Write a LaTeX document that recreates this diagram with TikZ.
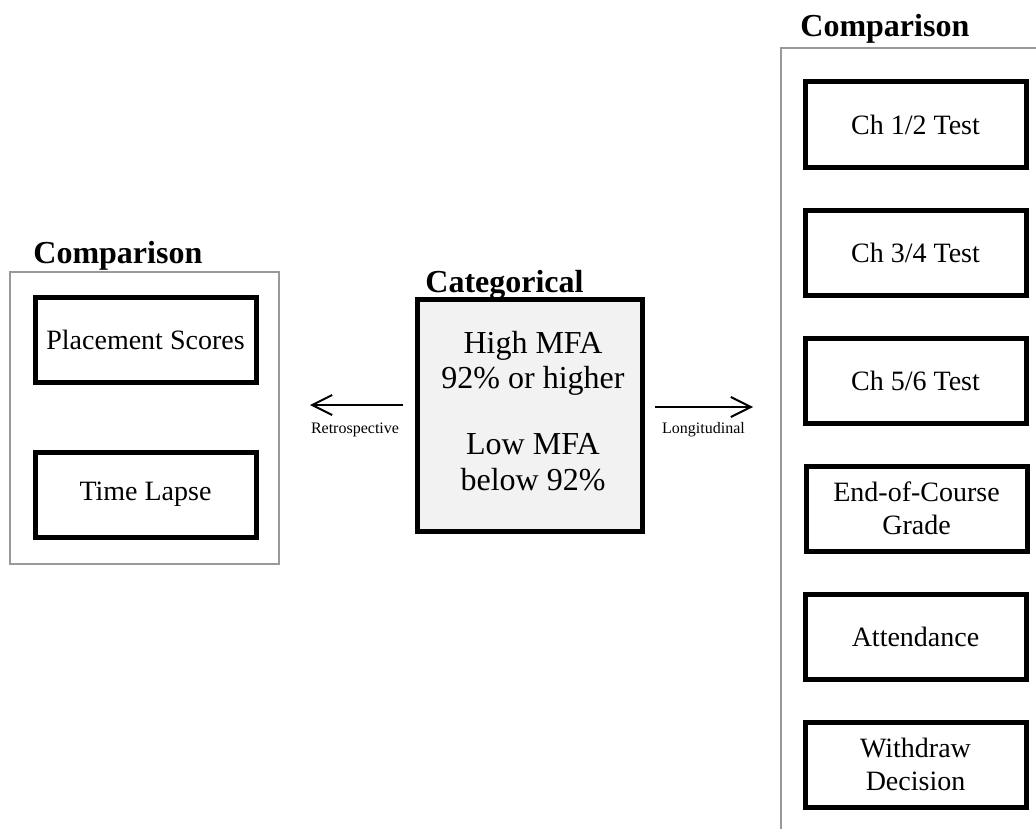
\documentclass[tikz,border=0pt]{standalone}
\usepackage{fontspec}
\setmainfont{Liberation Serif}
\usetikzlibrary{arrows.meta}
\begin{document}
\begin{tikzpicture}[x=0.5pt,y=-0.5pt,
  panel/.style={draw=black!40, line width=0.75pt},
  itembox/.style={draw=black, line width=2.5pt, fill=white, minimum width=110.5pt, minimum height=42.5pt, inner sep=0pt, align=center, font=\fontsize{14}{16.5}\selectfont},
  catbox/.style={draw=black, line width=2.5pt, fill=black!5, minimum width=112.5pt, minimum height=116pt, inner sep=0pt},
  ttl/.style={anchor=base west, inner sep=0pt, font=\fontsize{16}{19}\selectfont\bfseries},
  ctext/.style={anchor=base, inner sep=0pt, font=\fontsize{16}{19}\selectfont},
  smalllbl/.style={anchor=base, inner sep=0pt, font=\fontsize{8}{9.6}\selectfont},
  arr/.style={line width=1pt, -{Straight Barb[length=10pt,width=10pt]}}]
\useasboundingbox (0,0) rectangle (1036,829);

% left panel
\draw[panel] (10,272) rectangle (279,564);
\node[ttl] (ltitle) at (33,263) {Comparison};
\node[itembox] (ps) at (145.5,340) {Placement Scores};
\node[itembox] (tl) at (145.5,494.5) {Time Lapse};

% center
\node[ttl] (ctitle) at (425,292) {Categorical};
\node[catbox] (cat) at (530,415.5) {};
\node[ctext] (c1) at (533,353) {High MFA};
\node[ctext] (c2) at (533,388) {92\% or higher};
\node[ctext] (c3) at (533,454) {Low MFA};
\node[ctext] (c4) at (533,490) {below 92\%};

% arrows
\coordinate (lend) at (310,405);
\coordinate (rend) at (753,407);
\draw[arr] ([xshift=-6pt,yshift=5.25pt]cat.west) -- (lend);
\draw[arr] ([xshift=5pt,yshift=4.25pt]cat.east) -- (rend);
\node[smalllbl] (retro) at (355,433) {Retrospective};
\node[smalllbl] (longi) at (703.5,433) {Longitudinal};

% right panel
\draw[panel] (1036,48) -- (781,48) -- (781,829);
\node[ttl] (rtitle) at (800,37) {Comparison};
\node[itembox] (t12) at (915.5,124.5) {Ch 1/2 Test};
\node[itembox] (t34) at (915.5,253) {Ch 3/4 Test};
\node[itembox] (t56) at (915.5,380.5) {Ch 5/6 Test};
\node[itembox] (eoc) at (916.5,508.5) {End-of-Course\\Grade};
\node[itembox] (att) at (915.5,637) {Attendance};
\node[itembox] (wd) at (915.5,764.5) {Withdraw\\Decision};
\end{tikzpicture}
\end{document}
